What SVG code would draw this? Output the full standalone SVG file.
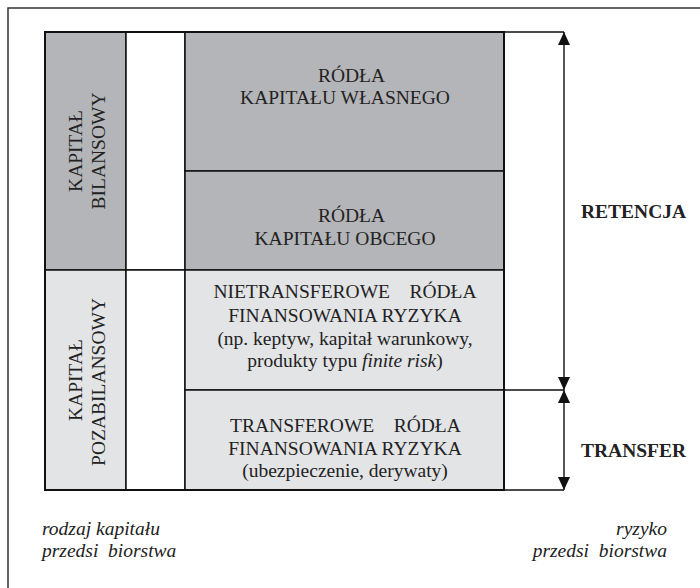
<svg xmlns="http://www.w3.org/2000/svg" width="700" height="588" viewBox="0 0 700 588">
<defs>
<style>
.t{font-family:"Liberation Serif","Times New Roman",serif;font-size:19.5px;fill:#222;}
.c{text-anchor:middle;}
.b{font-weight:bold;}
.i{font-style:italic;}
.pre{white-space:pre;}
.dark{fill:#b4b5b8;stroke:#111;stroke-width:1.5;}
.light{fill:#e3e4e6;stroke:#111;stroke-width:1.5;}
.white{fill:#fff;stroke:#111;stroke-width:1.5;}
.ln{stroke:#111;stroke-width:1.4;fill:none;}
</style>
<marker id="ah" viewBox="0 0 13 12" refX="13" refY="6" markerWidth="13" markerHeight="12" markerUnits="userSpaceOnUse" orient="auto-start-reverse">
<path d="M0,0 L13,6 L0,12 Z" fill="#111"/>
</marker>
</defs>
<rect width="700" height="588" fill="#fff"/>
<path d="M8,600 V8 H700" fill="none" stroke="#333" stroke-width="1.5"/>

<g id="kapital-bilansowy">
<rect class="dark" x="45" y="32" width="81" height="238"/>
<text class="t c" transform="translate(82,151) rotate(-90)">KAPITAŁ</text>
<text class="t c" transform="translate(105,151) rotate(-90)">BILANSOWY</text>
</g>
<g id="kapital-pozabilansowy">
<rect class="light" x="45" y="270" width="81" height="220"/>
<text class="t c" transform="translate(82,380) rotate(-90)">KAPITAŁ</text>
<text class="t c" transform="translate(105,382) rotate(-90)">POZABILANSOWY</text>
</g>
<g id="spacer">
<rect class="white" x="126" y="32" width="59" height="238"/>
<rect class="white" x="126" y="270" width="59" height="220"/>
</g>
<g id="zrodla-wlasne">
<rect class="dark" x="185" y="32" width="319" height="139"/>
<text class="t c" x="351.5" y="82">RÓDŁA</text>
<text class="t c" x="345" y="104">KAPITAŁU WŁASNEGO</text>
</g>
<g id="zrodla-obce">
<rect class="dark" x="185" y="171" width="319" height="99"/>
<text class="t c" x="351.5" y="222">RÓDŁA</text>
<text class="t c" x="345" y="245">KAPITAŁU OBCEGO</text>
</g>
<g id="nietransferowe">
<rect class="light" x="185" y="270" width="319" height="120"/>
<text class="t c pre" x="345" y="298">NIETRANSFEROWE    RÓDŁA</text>
<text class="t c" x="345" y="322">FINANSOWANIA RYZYKA</text>
<text class="t c" x="345" y="345">(np. keptyw, kapitał warunkowy,</text>
<text class="t c" x="345" y="367">produkty typu <tspan class="i">finite risk</tspan>)</text>
</g>
<g id="transferowe">
<rect class="light" x="185" y="390" width="319" height="100"/>
<text class="t c pre" x="345.5" y="432">TRANSFEROWE    RÓDŁA</text>
<text class="t c" x="345" y="455">FINANSOWANIA RYZYKA</text>
<text class="t c" x="345" y="477">(ubezpieczenie, derywaty)</text>
</g>
<rect x="45" y="32" width="459" height="458" fill="none" stroke="#111" stroke-width="2"/>

<g id="connectors">
<path class="ln" d="M504,32 H564 M504,390 H564 M504,490 H564"/>
<path class="ln" d="M564,390 V32" marker-start="url(#ah)" marker-end="url(#ah)"/>
<path class="ln" d="M564,390 V490" marker-start="url(#ah)" marker-end="url(#ah)"/>
</g>

<g id="retencja"><text class="t b" x="581" y="218">RETENCJA</text></g>
<g id="transfer"><text class="t b" x="581" y="457">TRANSFER</text></g>
<g id="rodzaj-kapitalu">
<text class="t i" x="42" y="535">rodzaj kapitału</text>
<text class="t i pre" x="42" y="557">przedsi  biorstwa</text>
</g>
<g id="ryzyko">
<text class="t i" x="667" y="535" text-anchor="end">ryzyko</text>
<text class="t i pre" x="667" y="557" text-anchor="end">przedsi  biorstwa</text>
</g>
</svg>
